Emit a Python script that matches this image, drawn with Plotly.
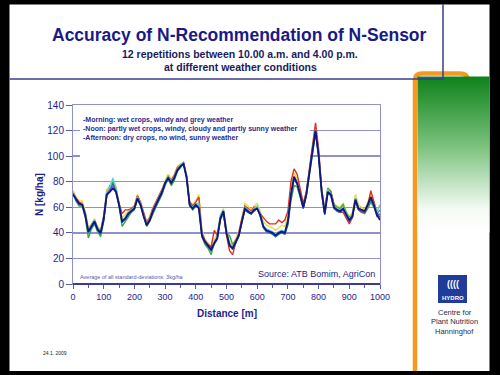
import base64
import plotly.graph_objects as go

# ---------------- data ----------------
distance_m = list(range(0, 1001, 10))

navy = [70,66,63,62,54,41,45,49,43,40,
        51,70,72,75,72,62,49,51,55,57,
        59,67,62,53,46,50,57,62,67,72,
        79,83,79,83,89,92,94,83,62,59,
        62,59,38,33,30,27,32,36,51,57,
        40,30,28,33,38,49,59,57,55,58,
        59,54,45,42,41,40,38,40,41,40,
        49,70,84,79,70,60,70,88,106,120,
        101,72,55,72,70,60,58,57,59,54,
        50,53,66,59,58,57,62,68,62,54,
        50]

red = [72,67,64,63,55,42,46,50,44,41,
       53,72,74,78,74,63,55,58,58,59,
       61,69,64,55,48,52,59,64,69,74,
       80,84,81,85,91,93,95,85,64,61,
       64,68,40,34,31,29,42,38,52,56,
       38,26,23,32,40,51,61,59,57,60,
       60,55,52,49,47,47,47,50,48,50,
       57,80,90,86,74,63,72,90,110,126,
       106,74,57,74,72,62,57,56,56,52,
       47,52,66,58,56,56,61,73,64,56,
       52]

yellow = [73,68,65,65,57,44,47,51,45,42,
          54,74,76,80,76,65,52,54,57,59,
          61,70,64,56,49,53,60,64,69,74,
          81,86,82,86,92,94,95,86,65,62,
          65,70,42,35,32,29,35,39,54,59,
          43,33,30,35,41,52,63,61,58,61,
          63,57,49,46,45,44,42,44,46,45,
          53,76,87,82,72,62,72,89,108,122,
          103,74,58,75,73,63,61,60,63,57,
          53,56,70,62,60,58,64,70,64,57,
          62]

green = [71,65,61,61,52,36,43,47,41,37,
         49,70,77,80,72,61,45,49,53,56,
         58,67,61,52,45,49,55,60,65,70,
         77,82,77,81,88,91,94,84,61,58,
         61,62,37,31,28,23,32,36,50,55,
         39,38,31,34,38,48,58,56,55,58,
         59,53,44,41,40,39,37,39,40,39,
         46,65,77,76,68,59,69,86,104,118,
         100,74,57,75,72,62,60,59,62,56,
         52,54,67,58,56,55,59,64,60,55,
         58]

cyan = [72,66,63,63,55,43,46,50,44,41,
        52,72,76,83,75,63,50,52,56,58,
        60,68,63,54,47,51,58,63,68,73,
        80,84,80,84,90,93,95,84,62,60,
        63,63,39,33,30,25,33,37,54,58,
        41,32,29,33,38,49,60,58,56,59,
        61,55,46,43,42,41,39,41,42,41,
        50,72,83,79,70,60,71,89,107,121,
        102,73,56,74,71,61,59,58,60,55,
        51,54,67,60,58,57,62,67,63,56,
        62]

blue = [71,65,62,62,53,40,44,48,42,39,
        50,69,73,78,73,62,48,51,54,57,
        59,66,62,53,46,50,56,61,66,71,
        78,83,79,83,89,92,94,84,61,59,
        61,60,37,32,29,26,31,35,52,56,
        39,31,27,32,37,48,58,56,55,57,
        59,53,44,41,40,39,37,39,40,39,
        47,69,82,78,69,59,70,88,106,119,
        100,71,54,71,69,59,57,56,58,53,
        49,52,65,58,57,56,61,66,61,53,
        55]

x_ticks = [0, 100, 200, 300, 400, 500, 600, 700, 800, 900, 1000]
y_ticks = [0, 20, 40, 60, 80, 100, 120, 140]

legend_lines = ["-Morning: wet crops, windy and grey weather",
                "-Noon: partly wet crops, windy, cloudy and partly sunny weather",
                "-Afternoon: dry crops, no wind, sunny weather"]

# ---------------- figure ----------------
W, H = 500, 375
L, R, T, B = 73, 380, 105, 284


def px(x):
    return (x - L) / (R - L)


def py(y):
    return (B - y) / (B - T)


NAVY = "#1e1e8c"
GRID = "#9090cc"
FONT = "Liberation Sans, Arial, sans-serif"

fig = go.Figure()
series = [
    ("yellow", yellow, "#e8dc3c", 1.4),
    ("green", green, "#3aa83a", 1.4),
    ("red", red, "#e0301e", 1.4),
    ("cyan", cyan, "#5fd0e6", 1.4),
    ("blue", blue, "#2f62d8", 1.4),
    ("navy", navy, "#14147a", 1.8),
]
for name, vals, col, w in series:
    fig.add_trace(go.Scatter(x=distance_m, y=vals, mode="lines", name=name,
                             line=dict(color=col, width=w), showlegend=False,
                             hoverinfo="skip"))

# slide decoration (black frame, orange bar, green panel, title box, logo) as one SVG image
slide_svg = (
    "<svg xmlns='http://www.w3.org/2000/svg' width='500' height='375' viewBox='0 0 500 375'>"
    "<defs><linearGradient id='g' x1='0' y1='0' x2='0' y2='1'>"
    "<stop offset='0' stop-color='#0e821a'/>"
    "<stop offset='0.45' stop-color='#7cc27e'/>"
    "<stop offset='0.85' stop-color='#f4faf4'/>"
    "<stop offset='1' stop-color='#ffffff'/>"
    "</linearGradient></defs>"
    "<rect x='0' y='0' width='500' height='375' fill='#000000'/>"
    "<rect x='9.5' y='4.5' width='480' height='366.5' fill='#ffffff'/>"
    "<path d='M415 371 L415 80 Q415 73.5 422 73.5 L460 73.5 Q467 73.5 468 79' "
    "stroke='#f59a1e' stroke-width='4.5' fill='none'/>"
    "<rect x='417.5' y='76.5' width='72' height='156' fill='url(#g)'/>"
    "<path d='M9.5 79 H443 V4.5' stroke='#3c3c8c' stroke-width='1.5' fill='none'/>"
    "<rect x='438' y='275' width='29' height='28' fill='#1f3c9a'/>"
    "</svg>"
)
slide_uri = "data:image/svg+xml;base64," + base64.b64encode(slide_svg.encode()).decode()

images = [dict(source=slide_uri, xref="paper", yref="paper",
               x=px(0), y=py(0), sizex=px(500) - px(0), sizey=py(0) - py(375),
               xanchor="left", yanchor="top", sizing="stretch", layer="below")]

shapes = [dict(type="line", xref="paper", yref="paper",
               x0=0, x1=1, y0=0, y1=0,
               line=dict(color="#3a3a9a", width=2), layer="above")]

annotations = []


def text(x, y, s, size, color, bold=False, anchor="center", angle=0):
    annotations.append(dict(xref="paper", yref="paper", x=px(x), y=py(y),
                            text="<b>{}</b>".format(s) if bold else s,
                            showarrow=False, xanchor=anchor, yanchor="middle",
                            textangle=angle,
                            font=dict(size=size, color=color, family=FONT)))


text(239, 35, "Accuracy of N-Recommendation of N-Sensor", 17.5, "#1a1a86", bold=True)
text(240, 53.5, "12 repetitions between 10.00 a.m. and 4.00 p.m.", 10.5, "#1a1a5e", bold=True)
text(240, 67, "at different weather conditions", 10.5, "#1a1a5e", bold=True)

# weather legend in a white box that hides the grid lines behind it
annotations.append(dict(
    xref="paper", yref="paper", x=px(80), y=py(113), xanchor="left", yanchor="top",
    text="<br>".join("<b>{}</b>".format(s) for s in legend_lines),
    align="left", showarrow=False, bgcolor="white", borderpad=3, borderwidth=0,
    width=224, height=40, valign="top",
    font=dict(size=7, color="#2a2a8a", family=FONT)))

text(78, 276.5, "Average of all standard-deviations: 3kg/ha", 5.5, "#5a5aa8", anchor="left")
text(377, 273.5, "Source: ATB Bomim, AgriCon", 9, NAVY, anchor="right")

text(39, 195, "N [kg/ha]", 10, NAVY, bold=True, angle=-90)
text(227, 313, "Distance [m]", 10, NAVY, bold=True)

text(453, 284, "((((", 9, "white", bold=True)
text(452.5, 298, "HYDRO", 6, "white", bold=True)
text(454.5, 312, "Centre for", 7.5, "#2a2a4a")
text(454.5, 321.5, "Plant Nutrition", 7.5, "#2a2a4a")
text(454.5, 331, "Hanninghof", 7.5, "#2a2a4a")

text(41, 353, "24.1. 2009", 5, "#222222", anchor="left")

fig.update_layout(
    width=W, height=H,
    margin=dict(l=L, r=W - R, t=T, b=H - B, pad=0),
    paper_bgcolor="white", plot_bgcolor="white",
    images=images, shapes=shapes, annotations=annotations,
    font=dict(family=FONT, color=NAVY),
    xaxis=dict(range=[0, 1000], tickvals=x_ticks, showgrid=False,
               showline=True, linecolor=GRID, linewidth=1, mirror=True,
               ticks="outside", ticklen=4, tickcolor="#5a5aa0",
               tickfont=dict(size=9, color=NAVY, family=FONT),
               tickprefix="<b>", ticksuffix="</b>", zeroline=False,
               minor=dict(dtick=50, ticks="outside", ticklen=3, tickcolor="#5a5aa0")),
    yaxis=dict(range=[0, 140], tickvals=y_ticks, showgrid=True,
               gridcolor=GRID, gridwidth=1.3,
               showline=True, linecolor=GRID, linewidth=1, mirror=True,
               ticks="outside", ticklen=6, tickcolor="#5a5aa0",
               tickfont=dict(size=10, color=NAVY, family=FONT),
               tickprefix="<b>", ticksuffix="</b>", zeroline=False),
)

fig.write_html("out.html", config={"displayModeBar": False, "staticPlot": True},
               post_script="document.body.style.margin='0';document.body.style.overflow='hidden';")
